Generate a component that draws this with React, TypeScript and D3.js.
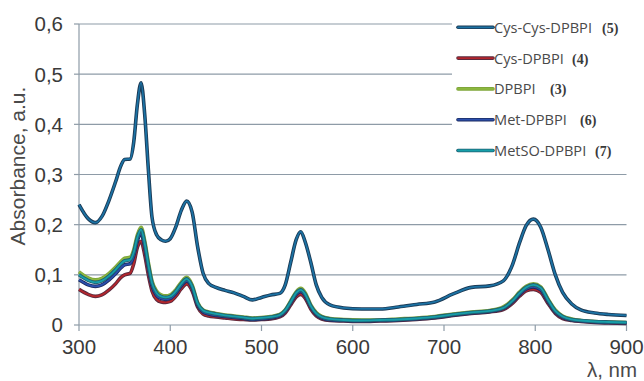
import React from "react";
import * as d3 from "d3";

// wavelength grid, nm
const wavelengths = [
  300, 310, 318, 325, 333, 340, 346, 350, 356, 360, 364, 368, 372, 376, 380, 385, 390, 395, 400, 406, 412, 418,
  424, 430, 436, 442, 450, 460, 470, 480, 490, 500, 510, 520, 526, 532, 538, 543, 548, 554, 560, 566, 575, 590,
  610, 630, 650, 670, 690, 710, 730, 750, 765, 775, 783, 790, 798, 806, 814, 822, 830, 840, 850, 865, 880, 900,
];

const cysCysDpbpi = [
  0.24, 0.212, 0.204, 0.216, 0.249, 0.285, 0.318, 0.33, 0.331, 0.365, 0.44, 0.483, 0.42, 0.31, 0.215, 0.18, 0.17,
  0.167, 0.172, 0.195, 0.228, 0.247, 0.225, 0.156, 0.103, 0.083, 0.075, 0.069, 0.064, 0.057, 0.05, 0.055, 0.06,
  0.063, 0.08, 0.125, 0.17, 0.186, 0.165, 0.125, 0.08, 0.055, 0.04, 0.034, 0.032, 0.032, 0.036, 0.041, 0.046, 0.062,
  0.075, 0.078, 0.088, 0.12, 0.165, 0.198, 0.211, 0.195, 0.15, 0.1, 0.065, 0.042, 0.03, 0.024, 0.021, 0.019,
];

const dpbpi = [
  0.106, 0.094, 0.09, 0.093, 0.103, 0.115, 0.127, 0.133, 0.135, 0.15, 0.18, 0.195, 0.168, 0.125, 0.088, 0.068, 0.06,
  0.058, 0.06, 0.07, 0.085, 0.095, 0.08, 0.045, 0.03, 0.026, 0.023, 0.02, 0.018, 0.016, 0.014, 0.015, 0.017, 0.021,
  0.03, 0.048, 0.066, 0.073, 0.064, 0.04, 0.025, 0.017, 0.013, 0.011, 0.01, 0.01, 0.012, 0.014, 0.017, 0.022, 0.026,
  0.029, 0.036, 0.05, 0.066, 0.077, 0.082, 0.076, 0.052, 0.03, 0.018, 0.012, 0.009, 0.007, 0.006, 0.005,
];

const metSoDpbpi = [
  0.1, 0.089, 0.085, 0.088, 0.098, 0.11, 0.122, 0.128, 0.13, 0.145, 0.175, 0.19, 0.163, 0.12, 0.084, 0.064, 0.057,
  0.055, 0.057, 0.067, 0.082, 0.092, 0.077, 0.043, 0.029, 0.025, 0.022, 0.019, 0.017, 0.015, 0.013, 0.014, 0.016,
  0.02, 0.029, 0.046, 0.064, 0.07, 0.061, 0.038, 0.023, 0.016, 0.012, 0.01, 0.009, 0.01, 0.011, 0.013, 0.016, 0.021,
  0.025, 0.028, 0.034, 0.048, 0.064, 0.075, 0.08, 0.074, 0.05, 0.028, 0.017, 0.011, 0.009, 0.007, 0.006, 0.005,
];

const metDpbpi = [
  0.09, 0.08, 0.077, 0.08, 0.09, 0.102, 0.114, 0.12, 0.122, 0.138, 0.168, 0.182, 0.155, 0.113, 0.078, 0.059, 0.053,
  0.051, 0.053, 0.063, 0.078, 0.088, 0.074, 0.04, 0.026, 0.022, 0.019, 0.017, 0.015, 0.013, 0.011, 0.012, 0.014,
  0.018, 0.027, 0.044, 0.061, 0.067, 0.058, 0.036, 0.021, 0.014, 0.01, 0.009, 0.008, 0.009, 0.01, 0.012, 0.015, 0.02,
  0.024, 0.027, 0.033, 0.046, 0.061, 0.072, 0.076, 0.07, 0.047, 0.026, 0.015, 0.01, 0.008, 0.006, 0.005, 0.004,
];

const cysDpbpi = [
  0.071, 0.061, 0.057, 0.06, 0.07, 0.082, 0.095, 0.1, 0.103, 0.122, 0.155, 0.167, 0.14, 0.1, 0.068, 0.051, 0.046,
  0.045, 0.047, 0.057, 0.072, 0.082, 0.068, 0.036, 0.022, 0.018, 0.016, 0.014, 0.012, 0.011, 0.01, 0.011, 0.012,
  0.016, 0.024, 0.04, 0.056, 0.061, 0.053, 0.032, 0.018, 0.012, 0.009, 0.008, 0.007, 0.008, 0.009, 0.011, 0.014,
  0.019, 0.023, 0.026, 0.031, 0.043, 0.058, 0.068, 0.071, 0.065, 0.043, 0.023, 0.013, 0.009, 0.007, 0.005, 0.004,
  0.003,
];

const yTicks = [0, 0.1, 0.2, 0.3, 0.4, 0.5, 0.6];
const xTicks = [300, 400, 500, 600, 700, 800, 900];

// legend order, top to bottom
const legendNames = ["Cys-Cys-DPBPI", "Cys-DPBPI", "DPBPI", "Met-DPBPI", "MetSO-DPBPI"];
const legendNums = ["(5)", "(4)", "(3)", "(6)", "(7)"];
const legendNumX = [602, 572, 550, 580, 595];
const lineColors = ["#1b72a4", "#b3262c", "#8cb83f", "#2b4fae", "#169fa9"];
const edgeColors = ["#1c3a55", "#5b2b3e", "#7fa63a", "#1d2d62", "#1f5f72"];

const seriesValues = [cysCysDpbpi, cysDpbpi, dpbpi, metDpbpi, metSoDpbpi];
// drawing order: lower bundle first, top curve last
const drawOrder = [2, 1, 3, 4, 0];

const W = 644;
const H = 381;

export default function App() {
  const x = d3.scaleLinear().domain([300, 900]).range([79, 626.5]);
  const y = d3.scaleLinear().domain([0, 0.6]).range([325, 24]);

  const line = d3
    .line<[number, number]>()
    .x((d) => x(d[0]))
    .y((d) => y(d[1]))
    .curve(d3.curveMonotoneX);

  const pts = (vals: number[]) =>
    wavelengths.map((w, i) => [w, vals[i]] as [number, number]).filter((d) => d[1] !== undefined);

  const grid = "#8e9ba7";
  const tickFont = "'Liberation Sans', Arial, sans-serif";

  return (
    <svg width={W} height={H} style={{ position: "absolute", left: 0, top: 0, background: "#fff" }}>
      {/* grid + axes */}
      {yTicks.map((t) => (
        <g key={t}>
          {t > 0 && <line x1={x(300)} x2={x(900)} y1={y(t)} y2={y(t)} stroke={grid} strokeWidth={1.2} />}
          <line x1={x(300) - 5} x2={x(300)} y1={y(t)} y2={y(t)} stroke={grid} strokeWidth={1.2} />
          <text
            x={63}
            y={y(t)}
            dy="0.36em"
            textAnchor="end"
            fontFamily={tickFont}
            fontSize={20.5}
            fill="#3a3a3a"
          >
            {String(t).replace(".", ",")}
          </text>
        </g>
      ))}
      <line x1={x(300)} x2={x(300)} y1={y(0.6)} y2={y(0)} stroke={grid} strokeWidth={1.2} />
      <line x1={x(300)} x2={x(900)} y1={y(0)} y2={y(0)} stroke={grid} strokeWidth={1.2} />
      {xTicks.map((t) => (
        <g key={t}>
          <line x1={x(t)} x2={x(t)} y1={y(0)} y2={y(0) + 6} stroke={grid} strokeWidth={1.2} />
          <text x={x(t)} y={354} textAnchor="middle" fontFamily={tickFont} fontSize={20.5} fill="#3a3a3a">
            {t}
          </text>
        </g>
      ))}

      {/* legend background hides the upper grid lines */}
      <rect x={452} y={4} width={192} height={160} fill="#fff" />

      {/* curves */}
      {drawOrder.map((k) => (
        <g key={k}>
          <path d={line(pts(seriesValues[k])) ?? ""} fill="none" stroke={edgeColors[k]} strokeWidth={3.6} />
          <path d={line(pts(seriesValues[k])) ?? ""} fill="none" stroke={lineColors[k]} strokeWidth={1.8} />
        </g>
      ))}

      {/* legend */}
      {legendNames.map((name, i) => {
        const ly = 27.3 + i * 30.8;
        return (
          <g key={name}>
            <line x1={458} x2={493} y1={ly} y2={ly} stroke={edgeColors[i]} strokeWidth={3.6} strokeLinecap="round" />
            <line x1={458} x2={493} y1={ly} y2={ly} stroke={lineColors[i]} strokeWidth={1.8} strokeLinecap="round" />
            <text x={494} y={ly + 5.5} fontFamily="'Open Sans', sans-serif" fontSize={14.6} fill="#4a4a4a">
              {name}
            </text>
            <text
              x={legendNumX[i]}
              y={ly + 5.5}
              fontFamily="'Liberation Serif', serif"
              fontSize={14}
              fontWeight="bold"
              fill="#3a3a3a"
            >
              {legendNums[i]}
            </text>
          </g>
        );
      })}

      {/* axis titles */}
      <text
        transform={`translate(25,166) rotate(-90)`}
        textAnchor="middle"
        fontFamily={tickFont}
        fontSize={21}
        fill="#4a4a4a"
      >
        Absorbance, a.u.
      </text>
      <text x={637} y={377} textAnchor="end" fontFamily={tickFont} fontSize={20.5} fill="#4a4a4a">
        λ, nm
      </text>
    </svg>
  );
}
